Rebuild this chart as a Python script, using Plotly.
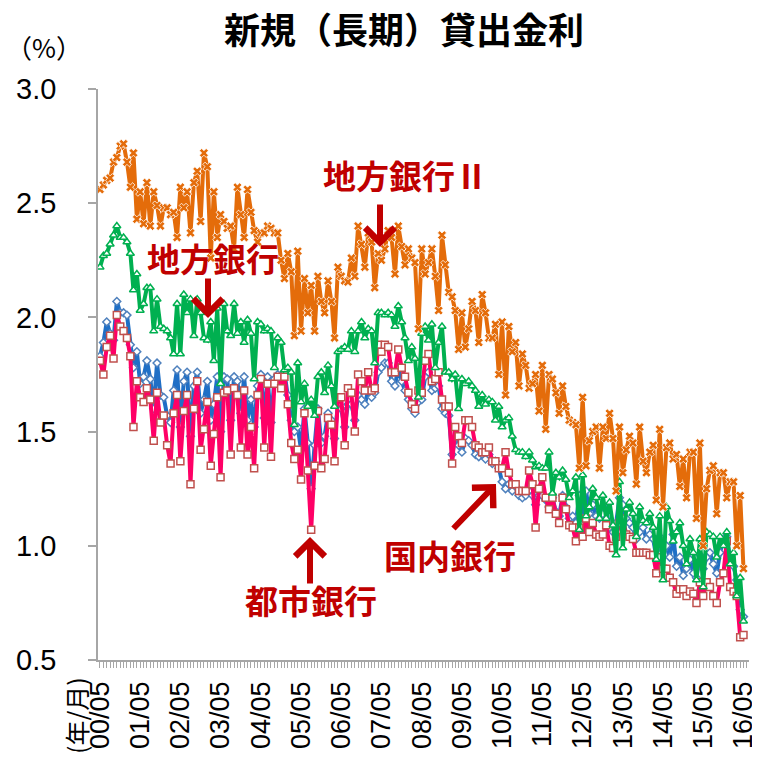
import pandas as pd
import plotly.graph_objects as go

# ---- data (monthly, 2000/05 - 2016/05) ----
months = pd.date_range("2000-05-01", periods=193, freq="MS")

kokunai_rates = [  # 国内銀行
    1.83, 1.89, 1.98, 1.93, 1.90, 2.07, 2.02, 2.02, 2.01, 1.88, 1.78, 1.85,
    1.71, 1.74, 1.81, 1.73, 1.60, 1.80, 1.66, 1.65, 1.57, 1.54, 1.68, 1.77,
    1.52, 1.72, 1.76, 1.48, 1.70, 1.76, 1.58, 1.64, 1.72, 1.55, 1.62, 1.74,
    1.50, 1.74, 1.73, 1.55, 1.74, 1.72, 1.58, 1.74, 1.55, 1.64, 1.52, 1.70,
    1.75, 1.56, 1.74, 1.54, 1.73, 1.75, 1.70, 1.76, 1.66, 1.55, 1.50, 1.52,
    1.42, 1.60, 1.45, 1.25, 1.44, 1.60, 1.45, 1.48, 1.58, 1.55, 1.47, 1.62,
    1.60, 1.52, 1.62, 1.62, 1.55, 1.66, 1.64, 1.62, 1.68, 1.65, 1.67, 1.76,
    1.78, 1.80, 1.80, 1.72, 1.70, 1.78, 1.72, 1.68, 1.64, 1.60, 1.58, 1.63,
    1.64, 1.74, 1.76, 1.68, 1.69, 1.70, 1.60, 1.58, 1.57, 1.40, 1.47, 1.44,
    1.41, 1.47, 1.46, 1.44, 1.40, 1.39, 1.40, 1.38, 1.40, 1.36, 1.37, 1.34,
    1.28, 1.25, 1.27, 1.24, 1.26, 1.22, 1.21, 1.22, 1.24, 1.22, 1.18, 1.22,
    1.22, 1.20, 1.17, 1.21, 1.15, 1.13, 1.22, 1.17, 1.12, 1.13, 1.10, 1.22,
    1.12, 1.24, 1.14, 1.18, 1.13, 1.12, 1.14, 1.16, 1.08, 1.06, 1.10, 1.21,
    1.18, 1.12, 1.10, 1.08, 1.03, 1.06, 1.08, 1.03, 1.05, 1.03, 0.95, 1.04,
    0.98, 1.00, 0.95, 1.05, 0.91, 0.95, 0.87, 0.90, 0.94, 0.88, 0.86, 0.96,
    0.90, 0.95, 0.97, 0.92, 0.88, 0.97, 1.03, 1.04, 0.94, 0.91, 0.85, 0.72,
    0.69,
]

toshi_rates = [  # 都市銀行
    1.81, 1.75, 1.87, 1.92, 1.82, 2.01, 1.96, 1.94, 1.91, 1.83, 1.52, 1.72,
    1.65, 1.63, 1.69, 1.64, 1.46, 1.67, 1.54, 1.57, 1.44, 1.36, 1.58, 1.66,
    1.37, 1.59, 1.66, 1.27, 1.60, 1.72, 1.42, 1.51, 1.63, 1.35, 1.49, 1.65,
    1.30, 1.67, 1.68, 1.40, 1.69, 1.66, 1.43, 1.68, 1.40, 1.52, 1.34, 1.66,
    1.73, 1.43, 1.71, 1.39, 1.71, 1.74, 1.69, 1.74, 1.62, 1.45, 1.38, 1.42,
    1.29, 1.58, 1.33, 1.07, 1.35, 1.59, 1.34, 1.38, 1.56, 1.53, 1.37, 1.65,
    1.65, 1.44, 1.69, 1.67, 1.50, 1.75, 1.72, 1.68, 1.76, 1.68, 1.69, 1.88,
    1.85, 1.88, 1.87, 1.76, 1.76, 1.86, 1.78, 1.74, 1.67, 1.62, 1.60, 1.68,
    1.67, 1.81, 1.84, 1.72, 1.73, 1.76, 1.64, 1.61, 1.61, 1.36, 1.52, 1.48,
    1.45, 1.55, 1.55, 1.52, 1.44, 1.43, 1.41, 1.41, 1.43, 1.37, 1.37, 1.34,
    1.34, 1.41, 1.32, 1.27, 1.27, 1.24, 1.24, 1.24, 1.33, 1.27, 1.08, 1.25,
    1.30, 1.21, 1.16, 1.21, 1.14, 1.10, 1.21, 1.16, 1.09, 1.08, 1.02, 1.08,
    1.04, 1.12, 1.06, 1.10, 1.05, 1.04, 1.05, 1.09, 1.00, 0.99, 1.04, 1.10,
    1.12, 1.05, 1.04, 1.03, 0.97, 0.97, 0.97, 0.97, 0.96, 0.96, 0.88, 0.95,
    0.90, 0.90, 0.86, 0.84, 0.79, 0.81, 0.81, 0.78, 0.80, 0.79, 0.75, 0.84,
    0.78, 0.84, 0.82, 0.78, 0.75, 0.84, 0.88, 1.02, 0.82, 0.80, 0.78, 0.60,
    0.61,
]

chihou_rates = [  # 地方銀行
    2.22, 2.27, 2.28, 2.32, 2.36, 2.40, 2.35, 2.35, 2.33, 2.28, 2.12, 2.19,
    2.03, 2.06, 2.13, 2.13, 1.94, 2.08, 1.96, 1.95, 1.94, 1.91, 1.84, 2.06,
    1.84, 2.10, 2.02, 2.08, 1.92, 2.08, 2.02, 1.91, 1.90, 1.98, 1.81, 2.04,
    1.71, 2.06, 1.94, 1.92, 2.06, 1.93, 1.98, 1.89, 1.99, 1.93, 1.73, 1.98,
    1.97, 1.94, 1.95, 1.94, 1.78, 1.91, 1.89, 1.77, 1.78, 1.76, 1.53, 1.80,
    1.63, 1.71, 1.61, 1.64, 1.57, 1.74, 1.76, 1.67, 1.79, 1.70, 1.61, 1.85,
    1.86, 1.87, 1.86, 1.94, 1.85, 1.94, 1.98, 1.91, 1.95, 1.94, 1.80, 2.02,
    2.02, 2.01, 2.02, 2.01, 1.96, 2.05, 1.98, 1.91, 1.81, 1.87, 1.82, 1.65,
    1.93, 1.96, 1.90, 1.97, 1.78, 1.89, 1.96, 1.76, 1.76, 1.73, 1.75, 1.60,
    1.73, 1.71, 1.72, 1.70, 1.68, 1.61, 1.66, 1.62, 1.64, 1.63, 1.55, 1.61,
    1.52, 1.55, 1.56, 1.48, 1.42, 1.41, 1.41, 1.39, 1.41, 1.375, 1.345, 1.35,
    1.34, 1.34, 1.41, 1.23, 1.32, 1.30, 1.33, 1.29, 1.21, 1.24, 1.30, 1.07,
    1.31, 1.13, 1.17, 1.25, 1.21, 1.12, 1.22, 1.12, 1.19, 1.09, 0.96, 1.28,
    0.99, 1.16, 1.19, 1.14, 1.04, 1.17, 1.11, 1.10, 1.14, 1.08, 0.94, 1.13,
    0.85, 1.17, 1.11, 1.02, 1.06, 1.10, 1.00, 0.92, 1.03, 0.97, 0.85, 1.03,
    0.82, 1.06, 1.05, 1.04, 0.95, 1.04, 1.00, 1.06, 0.92, 0.97, 0.78, 0.86,
    0.67,
]

chihou2_rates = [  # 地方銀行Ⅱ
    2.56, 2.58, 2.60, 2.61, 2.68, 2.70, 2.75, 2.76, 2.68, 2.57, 2.72, 2.43,
    2.55, 2.41, 2.59, 2.40, 2.55, 2.49, 2.40, 2.48, 2.48, 2.45, 2.46, 2.35,
    2.57, 2.48, 2.55, 2.37, 2.59, 2.64, 2.42, 2.72, 2.66, 2.26, 2.55, 2.35,
    2.45, 2.42, 2.39, 2.40, 2.30, 2.57, 2.45, 2.35, 2.56, 2.46, 2.38, 2.33,
    2.37, 2.37, 2.40, 2.39, 2.37, 2.37, 2.25, 2.17, 2.28, 2.20, 1.92, 2.29,
    1.94, 2.17, 2.02, 2.14, 1.94, 2.18, 2.07, 2.02, 2.16, 2.07, 1.91, 2.22,
    2.18, 2.16, 2.155, 2.26, 2.18, 2.40, 2.32, 2.22, 2.37, 2.33, 2.13, 2.28,
    2.25, 2.30, 2.38, 2.35, 2.19, 2.40, 2.31, 2.23, 2.30, 2.26, 2.24, 1.95,
    2.30, 2.19, 2.24, 2.30, 2.18, 2.03, 2.36, 2.23, 2.11, 2.09, 2.03, 1.86,
    2.02, 1.87, 1.95, 2.07, 2.03, 1.89, 2.10, 2.02, 1.91, 1.91, 1.97, 1.75,
    1.98, 1.66, 1.96, 1.85, 1.89, 1.70, 1.84, 1.79, 1.69, 1.71, 1.75, 1.59,
    1.79, 1.51, 1.75, 1.73, 1.67, 1.58, 1.70, 1.61, 1.55, 1.54, 1.53, 1.34,
    1.65, 1.35, 1.46, 1.50, 1.52, 1.34, 1.52, 1.47, 1.58, 1.47, 1.24, 1.52,
    1.32, 1.42, 1.48, 1.45, 1.27, 1.52, 1.37, 1.32, 1.41, 1.44, 1.20, 1.51,
    1.17, 1.43, 1.45, 1.38, 1.40, 1.26, 1.38, 1.21, 1.41, 1.41, 1.12, 1.45,
    1.00, 1.25, 1.33, 1.35, 1.14, 1.32, 1.32, 1.21, 1.28, 1.28, 1.00, 1.22,
    0.90,
]

y_ticks = [0.5, 1.0, 1.5, 2.0, 2.5, 3.0]

for s in (kokunai_rates, toshi_rates, chihou_rates, chihou2_rates):
    assert len(s) == len(months), len(s)

# ---- figure ----
# the page body has an 8px margin, so the figure sits at (8, 8) in the window
OFF = 8
W, H = 760 - 2 * OFF, 768 - 2 * OFF
# plot area in window pixels
L, R, T, B = 98, 749, 89, 660


def px(x):
    return (x - L) / (R - L)


def py(y):
    return (B - y) / (B - T)


JP = "Noto Sans CJK JP"
NUM = "Liberation Sans"
RED = "#C00000"
AXIS = "#A6A6A6"
LW = 4

fig = go.Figure()

fig.add_trace(go.Scatter(
    x=months, y=kokunai_rates, name="国内銀行", mode="lines+markers",
    line=dict(color="#1F6FC6", width=LW),
    marker=dict(symbol="diamond", size=6, color="white",
                line=dict(color="#4F81BD", width=1.5)),
))
fig.add_trace(go.Scatter(
    x=months, y=toshi_rates, name="都市銀行", mode="lines+markers",
    line=dict(color="#FF0066", width=LW),
    marker=dict(symbol="square", size=7, color="white",
                line=dict(color="#C0504D", width=1.5)),
))
fig.add_trace(go.Scatter(
    x=months, y=chihou_rates, name="地方銀行", mode="lines+markers",
    line=dict(color="#00B050", width=LW),
    marker=dict(symbol="triangle-up", size=7, color="white",
                line=dict(color="#00B050", width=1.5)),
))
fig.add_trace(go.Scatter(
    x=months, y=chihou2_rates, name="地方銀行Ⅱ", mode="lines+markers",
    line=dict(color="#E46C0A", width=LW),
    marker=dict(symbol="x", size=8, color="#E46C0A",
                line=dict(color="white", width=0.8)),
))

annotations = []


def label(text, cx, cy, size=33):
    annotations.append(dict(
        text=f"<b>{text}</b>", x=px(cx), y=py(cy), xref="paper", yref="paper",
        showarrow=False, xanchor="center", yanchor="middle",
        font=dict(family=JP, size=size, color=RED)))


def arrow(tip, tail):
    annotations.append(dict(
        text="", x=px(tip[0]), y=py(tip[1]), xref="paper", yref="paper",
        ax=tail[0] - tip[0], ay=tail[1] - tip[1],
        showarrow=True, arrowhead=4, arrowsize=0.95, arrowwidth=6,
        arrowcolor=RED, standoff=0))


label("地方銀行Ⅱ", 405, 175)
arrow((380, 247), (380, 203))
label("地方銀行", 213, 258)
arrow((208, 318), (208, 277))
label("都市銀行", 311, 600)
arrow((310, 537), (310, 585))
label("国内銀行", 450, 555)
arrow((496, 484), (452, 530))

# title
annotations.append(dict(
    text="<b>新規（長期）貸出金利</b>", x=px(404), y=py(28), xref="paper", yref="paper",
    showarrow=False, xanchor="center", yanchor="middle",
    font=dict(family=JP, size=36, color="black")))
# unit label
annotations.append(dict(
    text="（%）", x=px(44), y=py(47), xref="paper", yref="paper",
    showarrow=False, xanchor="center", yanchor="middle",
    font=dict(family=JP, size=26, color="black")))
annotations.append(dict(
    text="(年/月)", x=px(76), y=py(716), xref="paper", yref="paper",
    showarrow=False, xanchor="center", yanchor="middle", textangle=-90,
    font=dict(family=JP, size=25, color="black")))

fig.update_layout(
    width=W, height=H,
    margin=dict(l=L - OFF, r=W - (R - OFF), t=T - OFF, b=H - (B - OFF),
                pad=0, autoexpand=False),
    paper_bgcolor="white", plot_bgcolor="white",
    showlegend=False,
    annotations=annotations,
    font=dict(family=NUM, color="black"),
)

fig.update_xaxes(
    type="date", automargin=False,
    range=["2000-04-13", "2016-06-20"],
    tick0="2000-05-01", dtick="M12", tickformat="%y/%m",
    tickangle=-90, tickfont=dict(family=NUM, size=27, color="black"),
    ticks="outside", ticklen=6, tickcolor=AXIS, tickwidth=1,
    minor=dict(dtick="M1", tick0="2000-05-01", ticks="outside", ticklen=6,
               tickcolor=AXIS, tickwidth=1, showgrid=False),
    showline=True, linecolor=AXIS, linewidth=1.5,
    showgrid=False, zeroline=False, ticklabelstandoff=3,
    ticklabeloverflow="allow",
)
fig.update_yaxes(
    automargin=False,
    range=[0.5, 3.0], tickmode="array", tickvals=y_ticks,
    tickformat=".1f", tickfont=dict(family=NUM, size=29, color="black"),
    ticks="outside", ticklen=8, tickcolor=AXIS, tickwidth=1.5,
    showline=True, linecolor=AXIS, linewidth=1.5,
    showgrid=False, zeroline=False, ticklabelstandoff=26,
    ticklabeloverflow="allow",
)

fig.write_html("out.html")
